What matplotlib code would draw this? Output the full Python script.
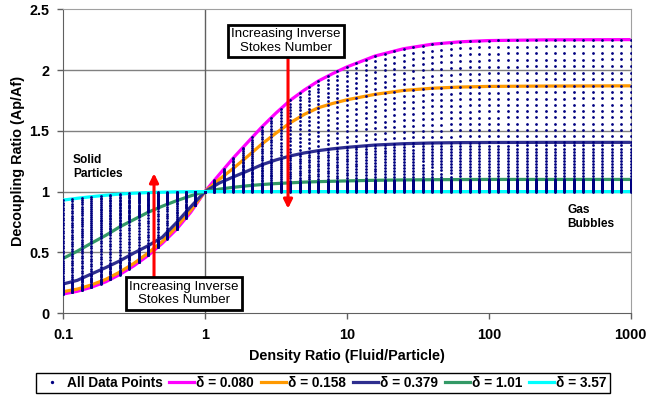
import numpy as np
import matplotlib
matplotlib.use("Agg")
import matplotlib.pyplot as plt
from matplotlib.lines import Line2D

plt.rcParams['font.family'] = ['Liberation Sans', 'DejaVu Sans']

# Density ratio (fluid/particle) at which the curves are tabulated
density_ratio = [0.1, 0.126, 0.158, 0.2, 0.251, 0.316, 0.398, 0.501, 0.631, 0.794,
                 1.0, 1.26, 1.58, 2.0, 2.51, 3.16, 3.98, 5.01, 6.31, 7.94,
                 10, 15.8, 25.1, 39.8, 63.1, 100, 251, 1000]

# Decoupling ratio Ap/Af for each inverse Stokes parameter delta
ratio_d0080 = [0.158, 0.18, 0.213, 0.258, 0.318, 0.39, 0.475, 0.575, 0.69, 0.83,
               1.0, 1.14, 1.275, 1.405, 1.53, 1.645, 1.75, 1.835, 1.91, 1.97,
               2.025, 2.115, 2.175, 2.212, 2.232, 2.242, 2.248, 2.25]
ratio_d0158 = [0.177, 0.198, 0.232, 0.278, 0.338, 0.41, 0.495, 0.59, 0.71, 0.845,
               1.0, 1.10, 1.19, 1.29, 1.39, 1.48, 1.565, 1.635, 1.69, 1.725,
               1.755, 1.80, 1.832, 1.85, 1.86, 1.865, 1.868, 1.87]
ratio_d0379 = [0.24, 0.27, 0.322, 0.375, 0.43, 0.495, 0.555, 0.625, 0.745, 0.875,
               1.0, 1.07, 1.12, 1.17, 1.22, 1.26, 1.293, 1.318, 1.337, 1.352,
               1.364, 1.383, 1.394, 1.40, 1.403, 1.404, 1.405, 1.405]
ratio_d101 = [0.45, 0.51, 0.575, 0.64, 0.71, 0.77, 0.83, 0.88, 0.925, 0.965,
              1.0, 1.02, 1.035, 1.048, 1.058, 1.066, 1.072, 1.078, 1.082, 1.085,
              1.088, 1.093, 1.096, 1.098, 1.099, 1.10, 1.10, 1.10]
ratio_d357 = [0.93, 0.945, 0.958, 0.97, 0.98, 0.987, 0.992, 0.995, 0.998, 0.999,
              1.0, 1.0, 1.0, 1.0, 1.0, 1.0, 1.0, 1.0, 1.0, 1.0,
              1.0, 1.0, 1.0, 1.0, 1.0, 1.0, 1.0, 1.0]

series_labels = ["δ = 0.080", "δ = 0.158", "δ = 0.379", "δ = 1.01", "δ = 3.57"]
series_values = [ratio_d0080, ratio_d0158, ratio_d0379, ratio_d101, ratio_d357]
series_colors = ["#FF00FF", "#FF9900", "#2E2E8F", "#339966", "#00FFFF"]

# Sampled data points: 15 density ratios per decade, and the number of
# intermediate delta values lying between each pair of listed curves
sample_density = np.logspace(-1, 3, 61)
rows_between = [6, 8, 11, 22]

x_ticks = [0.1, 1, 10, 100, 1000]
x_tick_labels = ["0.1", "1", "10", "100", "1000"]
y_ticks = [0, 0.5, 1, 1.5, 2, 2.5]
y_tick_labels = ["0", "0.5", "1", "1.5", "2", "2.5"]

fig = plt.figure(figsize=(6.61, 3.96), dpi=100)
ax = fig.add_axes([63 / 661, 1 - 313.2 / 396, 567.7 / 661, 304 / 396])
ax.set_xscale("log")
ax.set_xlim(0.1, 1000)
ax.set_ylim(0, 2.5)

# gridlines
for yv in [0.5, 1.0, 1.5, 2.0]:
    ax.axhline(yv, color="#808080", lw=1.0, zorder=1)
ax.axvline(1.0, color="#606060", lw=1.0, zorder=1)

# curves
for vals, lab, col in zip(series_values, series_labels, series_colors):
    ax.plot(density_ratio, vals, color=col, lw=2.3, zorder=3, label=lab,
            solid_capstyle="butt")

# data point cloud
logx = np.log10(density_ratio)
logs = np.log10(sample_density)
curves_at_samples = [np.interp(logs, logx, v) for v in series_values]
pts_x, pts_y = [], []
for k, n in enumerate(rows_between):
    upper = curves_at_samples[k]
    lower = curves_at_samples[k + 1]
    fracs = np.linspace(0, 1, n + 2)
    if k < len(rows_between) - 1:
        fracs = fracs[:-1]
    for f in fracs:
        pts_x.extend(sample_density)
        pts_y.extend(upper + f * (lower - upper))
ax.plot(pts_x, pts_y, linestyle="none", marker="o", markersize=2.0,
        markeredgewidth=0, color="#000080", zorder=4)

# axes styling
ax.set_xticks(x_ticks)
ax.set_xticklabels(x_tick_labels)
ax.set_yticks(y_ticks)
ax.set_yticklabels(y_tick_labels)
ax.minorticks_off()
ax.tick_params(axis="both", direction="out", length=4, width=1, color="#606060",
               labelsize=10.4, pad=3)
for lbl in ax.get_xticklabels() + ax.get_yticklabels():
    lbl.set_fontweight("bold")
ax.tick_params(axis="x", pad=7)
ax.tick_params(axis="y", pad=6)
for side in ["left", "bottom"]:
    ax.spines[side].set_color("#606060")
for side in ["top", "right"]:
    ax.spines[side].set_color("#a0a0a0")

ax.set_xlabel("Density Ratio (Fluid/Particle)", fontsize=10.4, fontweight="bold",
              labelpad=5)
ax.set_ylabel("Decoupling Ratio (Ap/Af)", fontsize=10.4, fontweight="bold",
              labelpad=3)

# annotations
box = dict(boxstyle="square,pad=0.25", fc="white", ec="black", lw=2)
ax.text(3.73, 2.238, "Increasing Inverse\nStokes Number", fontsize=9.6,
        ha="center", va="center", bbox=box, zorder=6, linespacing=1.15)
ax.annotate("", xy=(3.85, 0.86), xytext=(3.85, 2.11),
            arrowprops=dict(arrowstyle="-|>", color="red", lw=2.2,
                            mutation_scale=13, shrinkA=0, shrinkB=0), zorder=5)
ax.text(0.713, 0.162, "Increasing Inverse\nStokes Number", fontsize=9.6,
        ha="center", va="center", bbox=box, zorder=6, linespacing=1.15)
ax.annotate("", xy=(0.4378, 1.15), xytext=(0.4378, 0.30),
            arrowprops=dict(arrowstyle="-|>", color="red", lw=2.2,
                            mutation_scale=13, shrinkA=0, shrinkB=0), zorder=5)
ax.text(0.1176, 1.31, "Solid\nParticles", fontsize=8.6, fontweight="bold",
        ha="left", va="top", zorder=6)
ax.text(356, 0.90, "Gas\nBubbles", fontsize=8.6, fontweight="bold",
        ha="left", va="top", zorder=6)

# legend
handles = [Line2D([], [], linestyle="none", marker="o", markersize=2.4,
                  markeredgewidth=0, color="#000080")]
handles += [Line2D([], [], color=c, lw=2.3) for c in series_colors]
labels = ["All Data Points"] + series_labels
fig.legend(handles, labels, loc="center", bbox_to_anchor=(0.4887, 0.0328),
           ncol=6, frameon=True, fancybox=False, edgecolor="black",
           framealpha=1, handlelength=1.85, handletextpad=0.15,
           columnspacing=0.5, borderpad=0.25,
           prop=dict(weight="bold", size=9.8)).get_frame().set_linewidth(1.0)

fig.savefig("out.png", dpi=100)
